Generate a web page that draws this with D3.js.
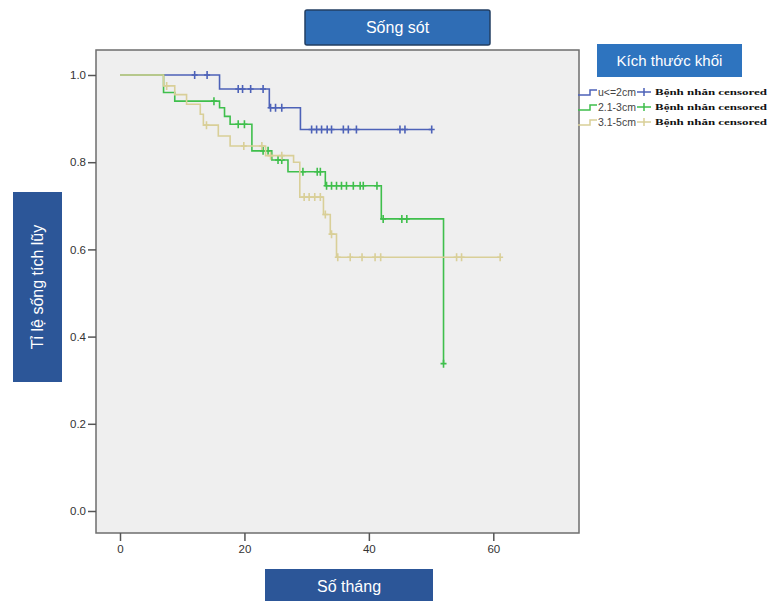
<!DOCTYPE html>
<html lang="vi">
<head>
	<meta charset="utf-8">
	<title>Sống sót</title>
	<style>
		body { margin: 0; background: #fff; }
		svg text { font-family: "Liberation Sans", Arial, sans-serif; }
	</style>
</head>
<body>

<script src="https://cdn.jsdelivr.net/npm/d3@7"></script>
<script>
	// nhóm kích thước khối
	var groups = ["u<=2cm", "2.1-3cm", "3.1-5cm"];
	var colors = ["#4d62b8", "#3fbf4c", "#d9cf98"];

	// các bước của đường Kaplan-Meier (tháng, tỉ lệ)
	var blueTimes = [0, 16, 24, 29, 50.1];
	var blueSurv = [1, 0.968, 0.925, 0.875, 0.875];
	var blueCensor = [12, 14, 19, 19.7, 21, 23, 24.2, 25, 26, 30.8, 31.6, 32.4, 33.3, 34, 35.9, 36.7, 38, 45, 45.8, 50.1];

	var greenTimes = [0, 7, 8.8, 16, 16.8, 17.7, 21.2, 24.4, 27, 33, 42, 52];
	var greenSurv = [1, 0.96, 0.94, 0.925, 0.905, 0.887, 0.826, 0.805, 0.778, 0.746, 0.67, 0.338];
	var greenCensor = [15.1, 19, 20, 23, 23.8, 25.4, 26, 29.4, 31.7, 32.2, 33.2, 34, 34.8, 35.6, 36.4, 37.5, 38.6, 39.1, 41.3, 42.3, 45.3, 46.1, 52];

	var tanTimes = [0, 7, 8.8, 10.7, 12.9, 13.4, 15.8, 17.7, 23.4, 27.9, 28.9, 32.7, 33.8, 34.8, 61.1];
	var tanSurv = [1, 0.975, 0.955, 0.933, 0.91, 0.885, 0.86, 0.837, 0.815, 0.80, 0.72, 0.68, 0.635, 0.582, 0.582];
	var tanCensor = [7.5, 13.9, 19.9, 22.8, 24.2, 26, 29.6, 30.4, 31.3, 32.2, 33, 34, 35, 37, 38.9, 41, 41.9, 54.1, 54.9, 61.1];

	var xTicks = [0, 20, 40, 60];
	var yTicks = [0, 0.2, 0.4, 0.6, 0.8, 1.0];

	var w = 771;
	var h = 601;

	var svg = d3.select("body").append("svg").attr("width", w).attr("height", h);

	// khung biểu đồ
	var box = {left: 96, top: 50, right: 579, bottom: 533};
	var x = d3.scaleLinear().domain([0, 60]).range([120, 493.3]);
	var y = d3.scaleLinear().domain([0, 1]).range([511, 75]);

	svg.append("rect")
		.attr("x", box.left).attr("y", box.top)
		.attr("width", box.right - box.left).attr("height", box.bottom - box.top)
		.attr("fill", "#efefef")
		.attr("stroke", "#6e6e6e")
		.attr("stroke-width", 1.5);

	var yAxis = svg.append("g")
		.attr("transform", "translate(" + box.left + ",0)")
		.call(d3.axisLeft(y).tickValues(yTicks).tickSize(8).tickPadding(2).tickFormat(d3.format(".1f")));
	var xAxis = svg.append("g")
		.attr("transform", "translate(0," + box.bottom + ")")
		.call(d3.axisBottom(x).tickValues(xTicks).tickSize(8).tickPadding(4));

	[yAxis, xAxis].forEach(function(g){
		g.select(".domain").remove();
		g.selectAll(".tick line").attr("stroke", "#555").attr("stroke-width", 1.5);
		g.selectAll(".tick text").attr("fill", "#333").style("font-size", "11.5px");
	});

	// đường sống sót
	var series = [
		{times: blueTimes, surv: blueSurv, censor: blueCensor},
		{times: greenTimes, surv: greenSurv, censor: greenCensor},
		{times: tanTimes, surv: tanSurv, censor: tanCensor}
	];

	var line = d3.line()
		.x(function(d){ return x(d[0]); })
		.y(function(d){ return y(d[1]); })
		.curve(d3.curveStepAfter);

	function survAt(s, t) {
		var v = s.surv[0];
		for (var i = 0; i < s.times.length; i++) {
			if (s.times[i] <= t) v = s.surv[i];
		}
		return v;
	}

	series.forEach(function(s, k){
		var pts = s.times.map(function(t, i){ return [t, s.surv[i]]; });
		var g = svg.append("g");
		g.append("path")
			.attr("d", line(pts))
			.attr("fill", "none")
			.attr("stroke", colors[k])
			.attr("stroke-width", 1.6);

		g.selectAll("path.cens")
			.data(s.censor)
			.enter()
			.append("path")
			.attr("class", "cens")
			.attr("d", function(t){
				var cx = x(t), cy = y(survAt(s, t));
				return "M" + cx + "," + (cy - 4) + "V" + (cy + 4) + "M" + (cx - 3) + "," + cy + "H" + (cx + 3);
			})
			.attr("stroke", colors[k])
			.attr("stroke-width", 1.6);
	});

	// hộp tiêu đề
	function labelBox(bx, by, bw, bh, fill, txt, size, rotate, border) {
		var r = svg.append("rect")
			.attr("x", bx).attr("y", by).attr("width", bw).attr("height", bh)
			.attr("fill", fill);
		if (border) r.attr("stroke", border).attr("stroke-width", 1.5).attr("rx", 2);
		var t = svg.append("text")
			.attr("fill", "#fff")
			.attr("text-anchor", "middle")
			.attr("dominant-baseline", "central")
			.style("font-size", size + "px")
			.text(txt);
		if (rotate) {
			t.attr("transform", "translate(" + (bx + bw / 2) + "," + (by + bh / 2) + ") rotate(-90)");
		} else {
			t.attr("x", bx + bw / 2).attr("y", by + bh / 2);
		}
	}

	labelBox(305, 10, 185, 35, "#2f6db5", "Sống sót", 16, false, "#233f63");
	labelBox(597, 44, 145, 33, "#2e74bf", "Kích thước khối", 15, false, null);
	labelBox(265, 569, 168, 34, "#2c5698", "Số tháng", 16, false, null);
	labelBox(13, 192, 49, 190, "#2c5698", "Tỉ lệ sống tích lũy", 16, true, null);

	// chú giải
	var rowY = [92, 107, 122];
	var leg = svg.selectAll("g.leg")
		.data(groups)
		.enter()
		.append("g")
		.attr("class", "leg")
		.attr("transform", function(d, i){ return "translate(0," + rowY[i] + ")"; });

	leg.append("path")
		.attr("d", "M578,3H590V-2H597")
		.attr("fill", "none")
		.attr("stroke", function(d, i){ return colors[i]; })
		.attr("stroke-width", 1.5);

	leg.append("text")
		.attr("x", 598)
		.attr("dominant-baseline", "central")
		.attr("fill", "#444")
		.style("font-size", "10.5px")
		.text(function(d){ return d; });

	leg.append("path")
		.attr("d", "M637,0H651M644,-4V4")
		.attr("stroke", function(d, i){ return colors[i]; })
		.attr("stroke-width", 1.5);

	leg.append("text")
		.attr("x", 655)
		.attr("dominant-baseline", "central")
		.attr("fill", "#111")
		.attr("textLength", 112)
		.attr("lengthAdjust", "spacingAndGlyphs")
		.style("font-family", "'Liberation Serif', serif")
		.style("font-weight", "bold")
		.style("font-size", "9px")
		.text("Bệnh nhân censored");
</script>
</body>
</html>
